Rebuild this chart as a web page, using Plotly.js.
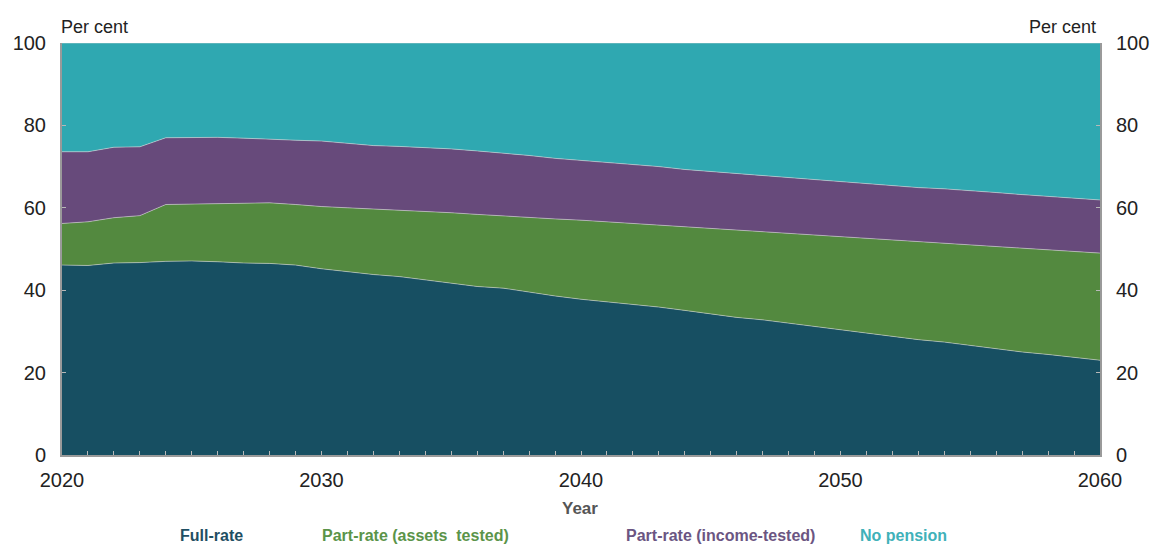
<!DOCTYPE html>
<html>
<head>
<meta charset="utf-8">
<script src="https://cdn.plot.ly/plotly-3.0.1.min.js"></script>
<style>
  html, body { margin: 0; padding: 0; background: #ffffff; }
  #chart { width: 1151px; height: 546px; }
</style>
</head>
<body>
<div id="chart"></div>
<script>
// Years of the projection
const years = [];
for (let y = 2020; y <= 2060; y++) years.push(y);

// Share of the age-pension-age population, per cent
const fullRate = [46.1, 46.0, 46.6, 46.7, 47.0, 47.1, 46.9, 46.6, 46.5, 46.1,
  45.2, 44.5, 43.8, 43.3, 42.5, 41.6, 40.9, 40.5, 39.5, 38.6,
  37.8, 37.2, 36.6, 35.9, 35.1, 34.2, 33.4, 32.8, 32.0, 31.2,
  30.3, 29.6, 28.7, 28.0, 27.4, 26.6, 25.9, 25.0, 24.4, 23.7, 23.0];

const partRateAssets = [10.1, 10.6, 11.0, 11.4, 13.8, 13.8, 14.1, 14.5, 14.7, 14.7,
  15.1, 15.5, 15.9, 16.2, 16.6, 17.2, 17.5, 17.5, 18.2, 18.7,
  19.2, 19.4, 19.6, 19.9, 20.3, 20.8, 21.2, 21.4, 21.8, 22.2,
  22.7, 23.0, 23.5, 23.8, 24.0, 24.4, 24.7, 25.2, 25.4, 25.7, 26.0];

const partRateIncome = [17.4, 17.0, 17.1, 16.7, 16.2, 16.2, 16.1, 15.8, 15.4, 15.6,
  15.9, 15.7, 15.4, 15.4, 15.5, 15.5, 15.4, 15.3, 15.0, 14.7,
  14.5, 14.4, 14.3, 14.2, 13.9, 13.8, 13.8, 13.6, 13.5, 13.4,
  13.3, 13.3, 13.2, 13.1, 13.2, 13.2, 13.1, 13.0, 13.0, 12.9, 12.9];

const noPension = [26.4, 26.4, 25.3, 25.2, 23.0, 22.9, 22.9, 23.1, 23.4, 23.6,
  23.8, 24.3, 24.9, 25.1, 25.4, 25.7, 26.2, 26.7, 27.3, 28.0,
  28.5, 29.0, 29.5, 30.0, 30.7, 31.2, 31.6, 32.2, 32.7, 33.2,
  33.7, 34.1, 34.6, 35.1, 35.4, 35.8, 36.3, 36.8, 37.2, 37.7, 38.1];

const seriesNames = ['Full-rate', 'Part-rate (assets  tested)', 'Part-rate (income-tested)', 'No pension'];
const seriesValues = [fullRate, partRateAssets, partRateIncome, noPension];
const fillColours = ['#174f62', '#53893f', '#674a7b', '#2fa8b1'];
const labelColours = ['#1f4f63', '#5b9449', '#6b5582', '#40b1b9'];

const xTicks = [2020, 2030, 2040, 2050, 2060];
const yTicks = [0, 20, 40, 60, 80, 100];

const traces = seriesValues.map((vals, i) => ({
  type: 'scatter',
  mode: 'lines',
  x: years,
  y: vals,
  name: seriesNames[i],
  stackgroup: 'share',
  fillcolor: fillColours[i],
  line: { color: 'rgba(215,215,215,0.55)', width: 1 },
  hoverinfo: 'skip',
  showlegend: false
}));

// Legend drawn as coloured labels under the axis title
const legendX = [211, 415, 720, 903];
const legendNotes = seriesNames.map((n, i) => ({
  text: '<b>' + n + '</b>',
  xref: 'paper', yref: 'paper',
  x: (legendX[i] - 62) / 1038, y: -0.195,
  xanchor: 'center', yanchor: 'middle',
  showarrow: false,
  font: { family: 'Liberation Sans, Arial, sans-serif', size: 16, color: labelColours[i] }
}));

const tickFont = { family: 'Liberation Sans, Arial, sans-serif', size: 20, color: '#222222' };

const layout = {
  width: 1151, height: 546,
  margin: { l: 62, r: 51, t: 43, b: 91 },
  paper_bgcolor: '#ffffff',
  plot_bgcolor: '#ffffff',
  showlegend: false,
  xaxis: {
    range: [2020, 2060],
    tickvals: xTicks,
    ticktext: xTicks.map(String),
    ticks: 'inside', ticklen: 4, tickcolor: '#b8b8b8', tickwidth: 1,
    minor: { dtick: 1, ticks: 'inside', ticklen: 4, tickcolor: '#b8b8b8', tickwidth: 1 },
    showgrid: false, zeroline: false,
    showline: true, linecolor: '#9a9a9a', linewidth: 2,
    tickfont: tickFont,
    ticklabelstandoff: 6
  },
  yaxis: {
    range: [0, 100],
    tickvals: yTicks,
    ticks: 'inside', ticklen: 4, tickcolor: '#b8b8b8',
    showgrid: false, zeroline: false,
    showline: true, linecolor: '#9a9a9a', linewidth: 2,
    tickfont: tickFont,
    ticklabelstandoff: 10
  },
  yaxis2: {
    overlaying: 'y', side: 'right', anchor: 'x',
    range: [0, 100],
    tickvals: yTicks,
    ticks: 'inside', ticklen: 4, tickcolor: '#b8b8b8',
    showgrid: false, zeroline: false,
    showline: true, linecolor: '#9a9a9a', linewidth: 2,
    tickfont: tickFont,
    ticklabelstandoff: 10
  },
  annotations: [
    {
      text: 'Per cent', xref: 'paper', yref: 'paper',
      x: (94 - 62) / 1038, y: 1.04, xanchor: 'center', yanchor: 'middle',
      showarrow: false,
      font: { family: 'Liberation Sans, Arial, sans-serif', size: 18, color: '#222222' }
    },
    {
      text: 'Per cent', xref: 'paper', yref: 'paper',
      x: (1062 - 62) / 1038, y: 1.04, xanchor: 'center', yanchor: 'middle',
      showarrow: false,
      font: { family: 'Liberation Sans, Arial, sans-serif', size: 18, color: '#222222' }
    },
    {
      text: '<b>Year</b>', xref: 'paper', yref: 'paper',
      x: (580 - 62) / 1038, y: -0.13, xanchor: 'center', yanchor: 'middle',
      showarrow: false,
      font: { family: 'Liberation Sans, Arial, sans-serif', size: 17, color: '#555555' }
    }
  ].concat(legendNotes)
};

// A blank companion trace keeps the right-hand axis drawn
traces.push({
  type: 'scatter', mode: 'none', x: [], y: [], yaxis: 'y2',
  hoverinfo: 'skip', showlegend: false
});

Plotly.newPlot('chart', traces, layout, { displayModeBar: false, staticPlot: true });
</script>
</body>
</html>
